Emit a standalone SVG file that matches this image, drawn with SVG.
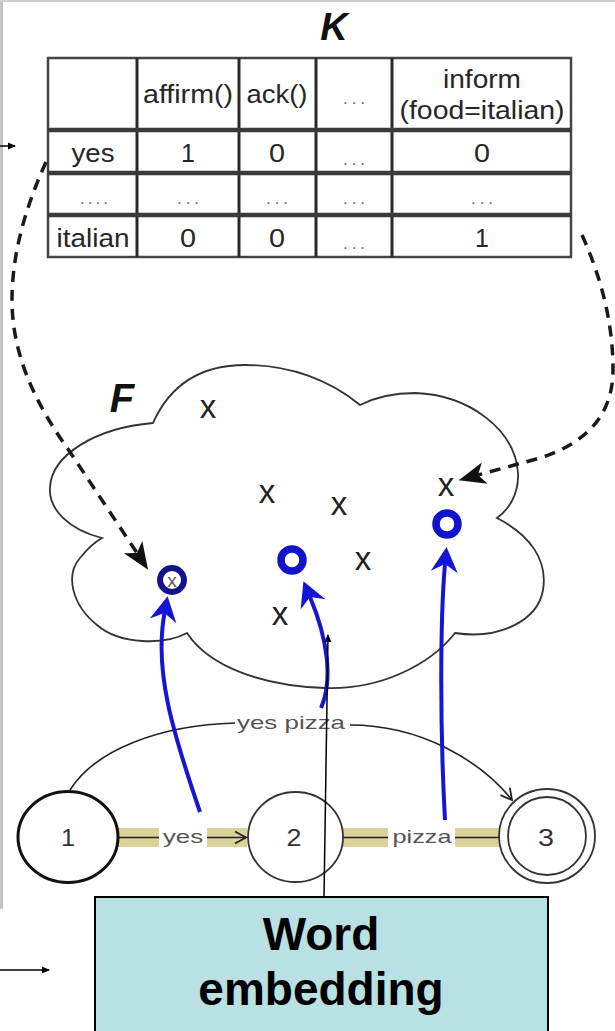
<svg xmlns="http://www.w3.org/2000/svg" width="615" height="1031" viewBox="0 0 615 1031">
<style>
.tt{font-family:"Liberation Sans",Arial,sans-serif;font-size:25px;fill:#262626;text-anchor:middle}
.dots{font-family:"Liberation Sans",Arial,sans-serif;font-size:17px;fill:#6a6a6a;text-anchor:middle}
.grid{stroke:#2a2a2a;stroke-width:3;fill:none}
.hgrid{stroke:#3a3a3a;stroke-width:4.5;fill:none}
.big{font-family:"Liberation Sans",Arial,sans-serif;font-weight:bold;font-style:italic;fill:#111;text-anchor:middle}
.xm{font-family:"Liberation Sans",Arial,sans-serif;font-size:33px;fill:#222;text-anchor:middle}
.bo{fill:none;stroke:#1212cc;stroke-width:7.5}
.dash{fill:none;stroke:#1a1a1a;stroke-width:3.5;stroke-dasharray:11 8}
.blue{fill:none;stroke:#1515d5;stroke-width:4}
.edge{fill:none;stroke:#222;stroke-width:1.6}
.band{fill:#dbd29a}
.lbl{font-family:"Liberation Sans",Arial,sans-serif;font-size:19px;fill:#555;text-anchor:middle}
.st{fill:#fff;stroke:#333;stroke-width:1.8}
.num{font-family:"Liberation Sans",Arial,sans-serif;font-size:23px;fill:#333;text-anchor:middle}
.thin{fill:none;stroke:#000;stroke-width:1.5}
</style>
<defs>
<marker id="blueHead" markerUnits="userSpaceOnUse" markerWidth="40" markerHeight="40" viewBox="-20 -20 40 40" refX="0" refY="0" orient="auto">
<path d="M17,0 L-8,-13.5 L0,0 L-8,13.5 Z" fill="#1515d5"/>
</marker>
<marker id="dashHead" markerUnits="userSpaceOnUse" markerWidth="40" markerHeight="40" viewBox="-20 -20 40 40" refX="0" refY="0" orient="auto">
<path d="M20,0 L-7,-11 L0,0 L-7,11 Z" fill="#111"/>
</marker>
<marker id="chev" markerUnits="userSpaceOnUse" markerWidth="24" markerHeight="24" viewBox="-12 -12 24 24" refX="0" refY="0" orient="auto">
<path d="M-11,-6 L0,0 L-11,6" fill="none" stroke="#222" stroke-width="1.8"/>
</marker>
<marker id="small" markerUnits="userSpaceOnUse" markerWidth="16" markerHeight="16" viewBox="-8 -8 16 16" refX="0" refY="0" orient="auto">
<path d="M1,0 L-7,-3.5 L-7,3.5 Z" fill="#000"/>
</marker>
</defs>
<rect x="0" y="0" width="615" height="1031" fill="#fff"/>
<g id="frame">
<line x1="1.5" y1="0" x2="1.5" y2="909" stroke="#c4c4c4" stroke-width="3"/>
<line x1="0" y1="1" x2="615" y2="1" stroke="#cfcfcf" stroke-width="2"/>
</g>
<g id="table-K">
<text class="big" x="334" y="40" font-size="38">K</text>
<rect x="48" y="58" width="523" height="199" fill="#fff" stroke="#444" stroke-width="2.5"/>
<path class="grid" d="M137,58V257M239,58V257M316,58V257M392,58V257"/>
<path class="hgrid" d="M48,130H571M48,173H571M48,215H571"/>
<text class="tt" x="188" y="103" textLength="90" lengthAdjust="spacingAndGlyphs">affirm()</text>
<text class="tt" x="277" y="103" textLength="61" lengthAdjust="spacingAndGlyphs">ack()</text>
<text class="dots" x="354" y="104" textLength="22" lengthAdjust="spacing">...</text>
<text class="tt" x="482" y="88" textLength="78" lengthAdjust="spacingAndGlyphs">inform</text>
<text class="tt" x="482" y="119" textLength="165" lengthAdjust="spacingAndGlyphs">(food=italian)</text>
<text class="tt" x="93" y="162" textLength="43" lengthAdjust="spacingAndGlyphs">yes</text>
<text class="tt" x="188" y="162">1</text>
<text class="tt" x="277" y="162" textLength="16" lengthAdjust="spacingAndGlyphs">0</text>
<text class="dots" x="354" y="165" textLength="22" lengthAdjust="spacing">...</text>
<text class="tt" x="482" y="162" textLength="16" lengthAdjust="spacingAndGlyphs">0</text>
<text class="dots" x="94" y="204" textLength="28" lengthAdjust="spacing">....</text>
<text class="dots" x="188" y="204" textLength="22" lengthAdjust="spacing">...</text>
<text class="dots" x="277" y="204" textLength="22" lengthAdjust="spacing">...</text>
<text class="dots" x="354" y="204" textLength="22" lengthAdjust="spacing">...</text>
<text class="dots" x="482" y="204" textLength="22" lengthAdjust="spacing">...</text>
<text class="tt" x="93" y="247" textLength="73" lengthAdjust="spacingAndGlyphs">italian</text>
<text class="tt" x="188" y="247" textLength="16" lengthAdjust="spacingAndGlyphs">0</text>
<text class="tt" x="277" y="247" textLength="16" lengthAdjust="spacingAndGlyphs">0</text>
<text class="dots" x="354" y="249" textLength="22" lengthAdjust="spacing">...</text>
<text class="tt" x="482" y="247">1</text>
</g>
<g id="cloud-F">
<path d="M153,423 C170,385 200,365 245,365 C290,365 330,380 360,405 C380,395 400,393 415,393 C470,395 515,430 518,473 C519,495 508,510 497,518 C530,535 548,560 543,590 C538,620 500,640 455,633 C430,665 380,690 325,688 C265,686 210,668 187,633 C165,645 120,645 97,625 C72,605 65,575 80,558 C88,548 95,542 102,538 C70,530 48,510 50,487 C52,455 95,428 153,423 Z" fill="#fff" stroke="#333" stroke-width="1.8"/>
<text class="big" x="122" y="412" font-size="40">F</text>
<text class="xm" x="208" y="418">x</text>
<text class="xm" x="267" y="503">x</text>
<text class="xm" x="339" y="515">x</text>
<text class="xm" x="446" y="496">x</text>
<text class="xm" x="363" y="570">x</text>
<text class="xm" x="280" y="625">x</text>
<ellipse class="bo" cx="292" cy="560" rx="11" ry="11"/>
<ellipse class="bo" cx="447" cy="524" rx="11" ry="11"/>
<ellipse cx="172" cy="580" rx="12" ry="12" fill="none" stroke="#14148a" stroke-width="6"/>
<text x="172" y="587" font-family="Liberation Sans, Arial, sans-serif" font-size="19" fill="#555" text-anchor="middle">x</text>
</g>
<g id="connectors">
<path class="dash" d="M46,162 C22,215 12,260 12,300 C12,360 40,410 70,452 L137,553" marker-end="url(#dashHead)"/>
<path class="dash" d="M582,235 C600,275 613,320 613,370 C613,420 580,445 540,458 L478,475" marker-end="url(#dashHead)"/>
<line x1="0" y1="146" x2="15" y2="146" class="thin" marker-end="url(#small)"/>
<line x1="0" y1="970" x2="49" y2="970" class="thin" marker-end="url(#small)"/>
<rect class="band" x="118" y="828" width="129" height="19"/>
<rect class="band" x="343" y="828" width="156" height="19"/>
<line class="edge" x1="118" y1="837.5" x2="246" y2="837.5" stroke-width="2" marker-end="url(#chev)"/>
<line class="edge" x1="343" y1="837.5" x2="499" y2="837.5" stroke-width="2"/>
<rect x="159" y="826" width="48" height="22" fill="#fff"/>
<text class="lbl" x="183" y="843" textLength="40" lengthAdjust="spacingAndGlyphs">yes</text>
<rect x="388" y="826" width="67" height="22" fill="#fff"/>
<text class="lbl" x="422" y="843" textLength="59" lengthAdjust="spacingAndGlyphs">pizza</text>
<path class="edge" d="M70,790 C95,750 160,725 235,723 M350,725 C420,725 480,760 512,800" marker-end="url(#chev)"/>
<rect x="235" y="712" width="113" height="22" fill="#fff"/>
<text class="lbl" x="291" y="729" textLength="108" lengthAdjust="spacingAndGlyphs">yes pizza</text>
</g>
<g id="state-1">
<ellipse cx="68" cy="837" rx="50" ry="45.5" fill="#fff" stroke="#111" stroke-width="3"/>
<text class="num" x="68" y="846" textLength="14" lengthAdjust="spacingAndGlyphs">1</text>
</g>
<g id="state-2">
<ellipse class="st" cx="295.5" cy="837" rx="47.5" ry="45"/>
<text class="num" x="294" y="846" textLength="15" lengthAdjust="spacingAndGlyphs">2</text>
</g>
<g id="state-3">
<ellipse class="st" cx="547" cy="836" rx="48" ry="47"/>
<ellipse class="st" cx="547" cy="836" rx="39" ry="39"/>
<text class="num" x="546" y="846" textLength="16" lengthAdjust="spacingAndGlyphs">3</text>
</g>
<g id="embedding-arrows">
<path class="blue" d="M200,812 C172,730 154,670 164.5,613" marker-end="url(#blueHead)"/>
<path class="blue" d="M321,708 C333,680 328,640 310,597" marker-end="url(#blueHead)"/>
<path class="blue" d="M445,820 C440,730 440,620 445,564" marker-end="url(#blueHead)"/>
<line class="thin" x1="324" y1="897" x2="328" y2="635" marker-end="url(#small)"/>
</g>
<g id="word-embedding">
<rect x="95" y="897" width="453" height="145" fill="#b9e0e3" stroke="#000" stroke-width="2"/>
<text x="321" y="950" font-family="Liberation Sans, Arial, sans-serif" font-weight="bold" font-size="46" fill="#000" text-anchor="middle">Word</text>
<text x="321" y="1005" font-family="Liberation Sans, Arial, sans-serif" font-weight="bold" font-size="46" fill="#000" text-anchor="middle">embedding</text>
</g>
</svg>
